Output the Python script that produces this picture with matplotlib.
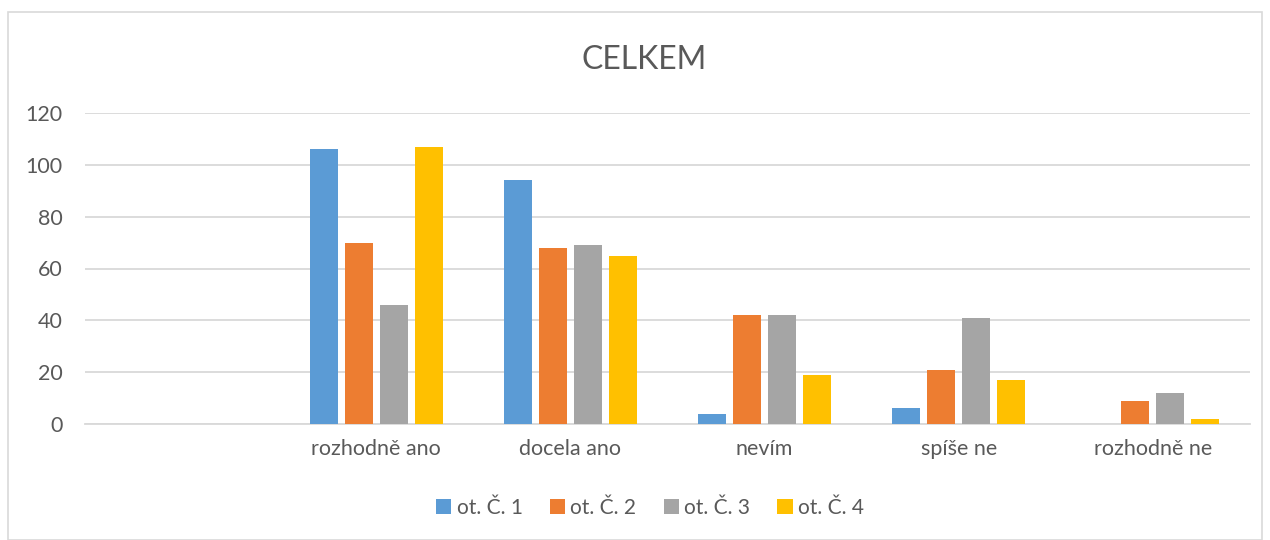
import numpy as np
import matplotlib.pyplot as plt
from matplotlib.patches import Rectangle

plt.rcParams['font.family'] = ['Lato', 'DejaVu Sans']

# Answer categories (the first slot is left empty)
categories = ['', 'rozhodně ano', 'docela ano', 'nevím', 'spíše ne', 'rozhodně ne']
series_names = ['ot. Č. 1', 'ot. Č. 2', 'ot. Č. 3', 'ot. Č. 4']
ot1 = [0, 106, 94, 4, 6, 0]
ot2 = [0, 70, 68, 42, 21, 9]
ot3 = [0, 46, 69, 42, 41, 12]
ot4 = [0, 107, 65, 19, 17, 2]
colors = ['#5b9bd5', '#ed7d31', '#a5a5a5', '#ffc000']

fig = plt.figure(figsize=(12.7, 5.4), dpi=100, facecolor='white')
ax = fig.add_axes([85 / 1270, 1 - 424 / 540, 1165 / 1270, 311 / 540])

x = np.arange(len(categories))
width = 0.144
step = 0.18
for i, (vals, name, c) in enumerate(zip([ot1, ot2, ot3, ot4], series_names, colors)):
    offs = (i - 1.5) * step
    ax.bar(x + offs, vals, width=width, color=c, label=name, zorder=3)

ax.set_xlim(-0.5, len(categories) - 0.5)
ax.set_ylim(0, 120)
ax.set_yticks(range(0, 121, 20))
ax.yaxis.grid(True, color='#d9d9d9', lw=1.3, zorder=0)
ax.set_axisbelow(True)
ax.set_xticks(x)
ax.set_xticklabels(categories)
ax.tick_params(axis='both', length=0, labelsize=15.5, colors='#595959')
ax.tick_params(axis='x', pad=11)
ax.tick_params(axis='y', pad=16)
for s in ('top', 'right', 'left'):
    ax.spines[s].set_visible(False)
ax.spines['bottom'].set_color('#d9d9d9')
ax.spines['bottom'].set_linewidth(1.3)

fig.text(644 / 1270, 1 - 60 / 540, 'CELKEM', ha='center', va='center',
         fontsize=23, color='#595959')

leg = fig.legend(loc='center', bbox_to_anchor=(650 / 1270, 1 - 508 / 540), ncol=4,
                 frameon=False, fontsize=15, handlelength=0.75, handleheight=0.75,
                 handletextpad=0.25, columnspacing=1.3)
for t in leg.get_texts():
    t.set_color('#595959')

# outer chart border
fig.patches.append(Rectangle((8 / 1270, 0.0), 1 - 16 / 1270, 1 - 12 / 540,
                             transform=fig.transFigure, fill=False,
                             edgecolor='#d9d9d9', lw=1.2))

fig.savefig('out.png', dpi=100)
